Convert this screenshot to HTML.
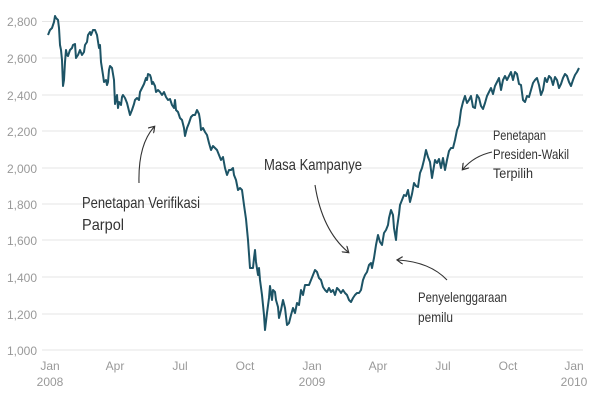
<!DOCTYPE html>
<html><head><meta charset="utf-8"><style>
html,body{margin:0;padding:0;background:#fff;}
svg{display:block;font-family:"Liberation Sans",sans-serif;}
.t{fill:#999;font-size:12px;}
.a{fill:#333;font-size:16px;}
.b{fill:#333;font-size:14px;}
</style></head><body>
<svg width="600" height="400" viewBox="0 0 600 400">
<defs><marker id="m" markerWidth="8" markerHeight="8" refX="5" refY="4" orient="auto" markerUnits="userSpaceOnUse"><path d="M0,0 L6,4 L0,8" fill="none" stroke="#333" stroke-width="1.2"/></marker></defs>
<g stroke="#e6e6e6" stroke-width="1">
<line x1="42" x2="583" y1="21.5" y2="21.5"/><line x1="42" x2="583" y1="58" y2="58"/><line x1="42" x2="583" y1="95" y2="95"/><line x1="42" x2="583" y1="131" y2="131"/><line x1="42" x2="583" y1="168" y2="168"/><line x1="42" x2="583" y1="204" y2="204"/><line x1="42" x2="583" y1="240" y2="240"/><line x1="42" x2="583" y1="277" y2="277"/><line x1="42" x2="583" y1="314" y2="314"/><line x1="42" x2="583" y1="350" y2="350"/>
</g>
<g class="t" text-anchor="end">
<text x="37" y="26">2,800</text><text x="37" y="63">2,600</text><text x="37" y="100">2,400</text><text x="37" y="136">2,200</text><text x="37" y="173">2,000</text><text x="37" y="209">1,800</text><text x="37" y="245">1,600</text><text x="37" y="282">1,400</text><text x="37" y="319">1,200</text><text x="37" y="355">1,000</text>
</g>
<g class="t" text-anchor="middle">
<text x="50" y="370">Jan</text><text x="50" y="386">2008</text>
<text x="115" y="370">Apr</text><text x="180" y="370">Jul</text><text x="245" y="370">Oct</text>
<text x="312" y="370">Jan</text><text x="312" y="386">2009</text>
<text x="378" y="370">Apr</text><text x="443" y="370">Jul</text><text x="508" y="370">Oct</text>
<text x="574" y="370">Jan</text><text x="574" y="386">2010</text>
</g>
<polyline fill="none" stroke="#1d5466" stroke-width="2" stroke-linejoin="round" points="48,35 50,30 52,28 54,22 55,16 56,18 58,20 59,28 60,45 61,50 62,60 63,86 64,80 65,62 66,50 67,55 68,56 70,50 72,48 73,45 75,44 76,58 78,55 80,50 82,55 84,52 85,45 87,42 88,35 90,32 91,35 93,30 95,30 97,35 99,48 100,45 101,62 103,75 104,82 106,80 107,85 108,82 109,70 110,66 112,68 114,80 115,104 117,95 118,108 119,102 121,105 122,97 123,95 125,98 127,103 128,107 130,115 132,110 134,104 135,100 137,98 139,100 140,92 142,88 144,84 146,78 147,80 148,74 150,75 151,78 152,84 153,82 155,86 156,92 158,90 160,92 162,95 164,92 166,97 168,100 170,99 172,105 174,108 175,100 176,110 178,112 180,118 182,120 184,128 185,136 187,128 189,123 191,117 193,115 195,115 197,110 199,114 200,120 201,130 203,128 205,132 207,135 209,143 211,150 213,146 215,148 217,150 219,155 221,160 223,157 225,168 227,175 229,170 231,170 233,168 234,175 236,180 238,190 240,188 242,190 244,205 246,219 248,240 250,268 253,268 254,258 255,250 256,262 258,275 259,268 260,280 262,295 264,315 265,330 267,313 269,298 270,286 272,300 273,290 275,292 276,300 278,307 279,318 281,310 283,300 285,308 287,325 289,323 291,315 293,308 295,313 297,303 299,305 301,290 303,295 305,285 307,285 309,285 311,280 313,275 315,270 317,272 319,278 321,280 323,287 325,290 327,292 329,288 331,292 333,290 335,295 337,288 339,290 341,293 343,290 345,293 347,295 349,300 351,302 353,298 355,295 357,293 359,293 361,290 363,280 365,275 367,272 369,265 371,263 372,268 374,258 376,245 378,235 380,242 382,245 384,233 386,230 388,225 389,218 391,210 393,215 394,228 396,240 397,228 399,214 400,205 402,200 404,195 406,196 408,190 410,202 412,194 414,183 416,186 418,187 420,173 422,168 424,160 426,150 428,157 430,162 432,178 433,172 435,160 437,163 439,159 441,168 443,158 445,170 447,160 449,151 451,148 453,148 455,140 457,130 459,125 461,110 463,102 465,96 467,103 469,100 471,96 473,107 475,108 477,95 479,98 481,106 483,109 485,103 487,96 489,92 491,88 493,94 495,86 497,82 499,78 501,90 503,80 505,76 507,80 509,76 511,72 513,80 515,72 517,74 519,84 521,85 523,100 525,102 527,96 529,97 531,90 533,83 535,80 537,78 539,85 541,95 543,90 545,78 547,82 549,76 551,78 553,85 555,77 557,80 559,88 561,84 563,78 565,74 567,76 569,82 571,86 573,80 575,75 577,72 579,68"/>
<g fill="none" stroke="#333" stroke-width="1.1" marker-end="url(#m)">
<path d="M139,183 Q138,145 154,127"/>
<path d="M315,185 Q322,230 348,252"/>
<path d="M492,152 Q474,156 463,169"/>
<path d="M447,280 Q430,262 398,260"/>
</g>
<text class="a" x="82" y="208" textLength="118" lengthAdjust="spacingAndGlyphs">Penetapan Verifikasi</text>
<text class="a" x="82" y="230" textLength="42" lengthAdjust="spacingAndGlyphs">Parpol</text>
<text class="a" x="264" y="170" textLength="98" lengthAdjust="spacingAndGlyphs">Masa Kampanye</text>
<text class="b" x="493" y="140" textLength="53" lengthAdjust="spacingAndGlyphs">Penetapan</text>
<text class="b" x="493" y="159" textLength="76" lengthAdjust="spacingAndGlyphs">Presiden-Wakil</text>
<text class="b" x="493" y="178" textLength="40" lengthAdjust="spacingAndGlyphs">Terpilih</text>
<text class="b" x="418" y="302" textLength="89" lengthAdjust="spacingAndGlyphs">Penyelenggaraan</text>
<text class="b" x="418" y="322" textLength="35" lengthAdjust="spacingAndGlyphs">pemilu</text>
</svg>
</body></html>
